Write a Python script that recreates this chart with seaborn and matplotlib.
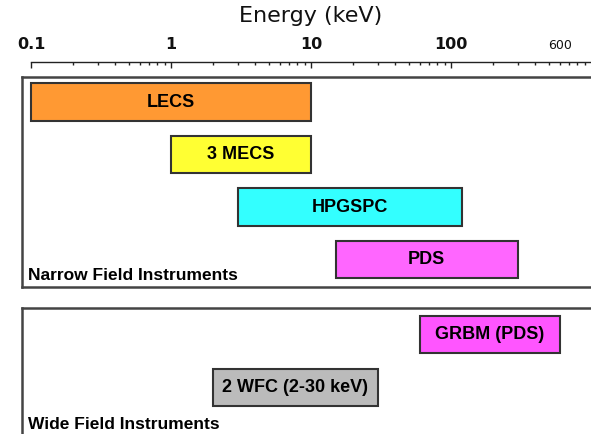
import numpy as np
import matplotlib
matplotlib.use('Agg')
import matplotlib.pyplot as plt
import seaborn as sns

# energy ranges (keV) of the instruments
narrow_names = ['LECS', '3 MECS', 'HPGSPC', 'PDS']
narrow_lo = [0.1, 1, 3, 15]
narrow_hi = [10, 10, 120, 300]
narrow_colors = ['#FF9933', '#FFFF33', '#33FFFF', '#FF66FF']

wide_names = ['GRBM (PDS)', '2 WFC (2-30 keV)']
wide_lo = [60, 2]
wide_hi = [600, 30]
wide_colors = ['#FF55FF', '#BBBBBB']

tick_vals = [0.1, 1, 10, 100, 600]
tick_labels = ['0.1', '1', '10', '100', '600']

sns.set_theme(style='white')
plt.rcParams['font.family'] = ['DejaVu Sans']

W, H = 591, 434
fig = plt.figure(figsize=(W / 100, H / 100), dpi=100)

px_dec = 140.0          # pixels per decade
x0_axis = 31.0          # pixel of 0.1 keV
x0_panel = 21.7         # left border of the panels
xmax = 10 ** (-1 + (W - x0_axis) / px_dec)
xmin_panel = 10 ** (-1 - (x0_axis - x0_panel) / px_dec)

edge = '#333333'
frame = '#444444'

# energy scale on top
y_line = 61.7
ax_s = fig.add_axes([x0_axis / W, 1 - y_line / H - 0.01, 1 - x0_axis / W, 0.01])
ax_s.set_xscale('log')
ax_s.set_xlim(0.1, xmax)
for s in ['bottom', 'left', 'right']:
    ax_s.spines[s].set_visible(False)
ax_s.spines['top'].set_color('#222222')
ax_s.spines['top'].set_linewidth(1)
ax_s.set_yticks([])
ax_s.xaxis.tick_top()
ax_s.set_xticks(tick_vals)
ax_s.set_xticklabels(tick_labels)
ax_s.tick_params(axis='x', which='major', direction='in', length=4, width=1,
                 color='#222222', pad=7, labelsize=11.5, top=True, bottom=False)
ax_s.tick_params(axis='x', which='minor', direction='in', length=2.2, width=1,
                 color='#222222', top=True, bottom=False)
for lab in ax_s.get_xticklabels():
    lab.set_fontweight('bold')
    lab.set_color('#111111')
last = ax_s.get_xticklabels()[-1]
last.set_fontweight('normal')
last.set_fontsize(9)
ax_s.xaxis.get_major_ticks()[-1].tick2line.set_markersize(2.2)
ax_s.set_xlabel('Energy (keV)', fontsize=16, color='#111111', labelpad=11)
ax_s.xaxis.set_label_position('top')
ax_s.patch.set_alpha(0)

label_font = dict(family=['Liberation Sans', 'DejaVu Sans'], fontweight='bold',
                  color='black')


def panel(top_px, bottom_px, names, lo, hi, colors, ylim, bar_h, title,
          title_base_px, show_bottom):
    ax = fig.add_axes([x0_panel / W, 1 - bottom_px / H, 1 - x0_panel / W,
                       (bottom_px - top_px) / H])
    ax.set_xscale('log')
    ax.set_xlim(xmin_panel, xmax)
    ax.set_ylim(*ylim)
    rows = np.arange(len(names))
    widths = np.array(hi) - np.array(lo)
    ax.barh(rows, widths, left=lo, height=bar_h, color=colors,
            edgecolor=edge, linewidth=1.5)
    for r, n, a, b in zip(rows, names, lo, hi):
        ax.text(np.sqrt(a * b), r, n, ha='center', va='center', fontsize=13,
                **label_font)
    ax.set_xticks([])
    ax.set_xticks([], minor=True)
    ax.set_yticks([])
    ax.spines['right'].set_visible(False)
    ax.spines['bottom'].set_visible(show_bottom)
    for s in ['top', 'left', 'bottom']:
        ax.spines[s].set_color(frame)
        ax.spines[s].set_linewidth(1.8)
    ax.text((28.3 - x0_panel) / (W - x0_panel),
            (bottom_px - title_base_px) / (bottom_px - top_px), title,
            transform=ax.transAxes, ha='left', va='baseline', fontsize=12.5,
            **label_font)
    return ax


panel(76.7, 287.3, narrow_names, narrow_lo, narrow_hi, narrow_colors,
      (3.526, -0.482), 0.714, 'Narrow Field Instruments', 280, True)
panel(308, 434, wide_names, wide_lo, wide_hi, wide_colors,
      (1.874, -0.504), 0.705, 'Wide Field Instruments', 429, False)

fig.savefig('out.png', dpi=100)
